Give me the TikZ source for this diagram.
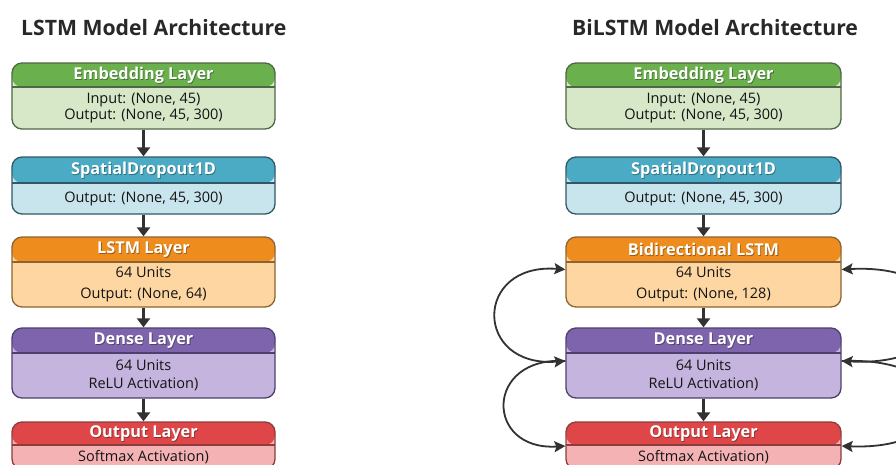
\documentclass[tikz,border=0pt]{standalone}
\usepackage{fontspec}
\setmainfont{Open Sans}
\usetikzlibrary{arrows.meta,calc}
\definecolor{greenhead}{RGB}{106,176,76}
\definecolor{greenbody}{RGB}{214,232,200}
\definecolor{greenline}{RGB}{78,104,70}
\definecolor{bluehead}{RGB}{75,170,196}
\definecolor{bluebody}{RGB}{200,228,236}
\definecolor{blueline}{RGB}{50,88,104}
\definecolor{orangehead}{RGB}{238,140,30}
\definecolor{orangebody}{RGB}{253,214,162}
\definecolor{orangeline}{RGB}{140,100,50}
\definecolor{purplehead}{RGB}{125,100,172}
\definecolor{purplebody}{RGB}{196,180,222}
\definecolor{purpleline}{RGB}{78,64,110}
\definecolor{redhead}{RGB}{222,70,72}
\definecolor{redbody}{RGB}{244,178,180}
\definecolor{redline}{RGB}{140,60,60}
\definecolor{arrowgray}{RGB}{50,50,50}
\definecolor{titlegray}{RGB}{40,40,40}
\tikzset{
  layer/.style={rectangle, rounded corners=10pt, line width=1.3pt, inner sep=0pt},
  headtext/.style={text=white, font=\fontsize{16.3}{18}\selectfont\bfseries, inner sep=0pt},
  headshadow/.style={text=black, opacity=0.35, font=\fontsize{16.3}{18}\selectfont\bfseries, inner sep=0pt},
  bodytext/.style={text=black!92, font=\fontsize{14.5}{17}\selectfont, align=center, inner sep=0pt},
  titletext/.style={text=titlegray, font=\fontsize{21.2}{24}\selectfont\bfseries, inner sep=0pt, anchor=west},
  flow/.style={draw=arrowgray, line width=2.8pt, -{Triangle[length=9pt,width=13pt]}},
  loop/.style={draw=arrowgray, line width=1.8pt, -{Stealth[length=11pt,width=11pt,inset=2pt]}},
  loopboth/.style={draw=arrowgray, line width=1.8pt, {Stealth[length=11pt,width=11pt,inset=2pt]}-{Stealth[length=11pt,width=11pt,inset=2pt]}}
}
% #1 name, #2 cx, #3 top, #4 divider, #5 bottom, #6 width, #7 colour prefix, #8 header, #9 body
\newcommand{\layerbox}[9]{%
  \pgfmathsetmacro{\lbh}{#5-#3}%
  \pgfmathsetmacro{\lbc}{(#3+#5)/2}%
  \pgfmathsetmacro{\lbd}{#4-#3}%
  \pgfmathsetmacro{\lbt}{(#3+#4)/2}%
  \pgfmathsetmacro{\lbb}{(#4+#5)/2}%
  \node[layer, minimum width=#6pt, minimum height=\lbh pt, fill=#7body, draw=#7line,
    path picture={
      \fill[#7head] (path picture bounding box.north west) rectangle ([yshift=-\lbd pt]path picture bounding box.north east);
      \draw[#7line, line width=1.1pt] ([yshift=-\lbd pt]path picture bounding box.north west) -- ([yshift=-\lbd pt]path picture bounding box.north east);
    }] (#1) at (#2,\lbc) {};
  \node[headshadow] at ([xshift=0.8pt,yshift=-0.8pt]#2,\lbt) {#8};
  \node[headtext] (#1h) at (#2,\lbt) {#8};
  \node[bodytext] (#1b) at (#2,\lbb) {#9};
}
\begin{document}
\begin{tikzpicture}[x=1pt,y=-1pt]
\useasboundingbox (0,0) rectangle (896,464);
\clip (0,0) rectangle (896,464);
\fill[white] (0,0) rectangle (896,464);

\node[titletext] (t1) at (21,28) {LSTM Model Architecture};
\node[titletext] (t2) at (572,28) {BiLSTM Model Architecture};

% left column
\layerbox{le}{143.5}{63}{87}{129}{263}{green}{Embedding Layer}{Input: (None, 45)\\[-1pt]Output: (None, 45, 300)}
\layerbox{ls}{143.5}{157}{183}{214}{263}{blue}{SpatialDropout1D}{Output: (None, 45, 300)}
\layerbox{ll}{143.5}{237}{262}{307}{263}{orange}{LSTM Layer}{64 Units\\[4pt]Output: (None, 64)}
\layerbox{ld}{143.5}{328}{353}{398}{263}{purple}{Dense Layer}{64 Units\\[1pt]ReLU Activation)}
\layerbox{lo}{143.5}{422}{445}{469}{263}{red}{Output Layer}{Softmax Activation)}

% right column
\layerbox{re}{703.5}{63}{87}{129}{275}{green}{Embedding Layer}{Input: (None, 45)\\[-1pt]Output: (None, 45, 300)}
\layerbox{rs}{703.5}{157}{183}{214}{275}{blue}{SpatialDropout1D}{Output: (None, 45, 300)}
\layerbox{rl}{703.5}{237}{262}{307}{275}{orange}{Bidirectional LSTM}{64 Units\\[4pt]Output: (None, 128)}
\layerbox{rd}{703.5}{328}{353}{398}{275}{purple}{Dense Layer}{64 Units\\[1pt]ReLU Activation)}
\layerbox{ro}{703.5}{422}{445}{469}{275}{red}{Output Layer}{Softmax Activation)}

% vertical flow arrows
\draw[flow] (le.south) -- (ls.north);
\draw[flow] (ls.south) -- (ll.north);
\draw[flow] (ll.south) -- (ld.north);
\draw[flow] (ld.south) -- (lo.north);
\draw[flow] (re.south) -- (rs.north);
\draw[flow] (rs.south) -- (rl.north);
\draw[flow] (rl.south) -- (rd.north);
\draw[flow] (rd.south) -- (ro.north);

% bidirectional loops, left side
\coordinate (rlw) at ([yshift=2.5pt]rl.west);
\coordinate (rdw) at ([yshift=2pt]rd.west);
\coordinate (row) at ([yshift=-0.5pt]ro.west);
\draw[loopboth] (rlw) .. controls ++(-92,-7) and ++(-92,7) .. (rdw);
\draw[loop] (rdw) .. controls ++(-81,-5) and ++(-81,5) .. (row);
% right side
\coordinate (rle) at ([yshift=2.5pt]rl.east);
\coordinate (rde) at ([yshift=2pt]rd.east);
\coordinate (roe) at ([yshift=-0.5pt]ro.east);
\draw[loopboth] (rle) .. controls ++(130,-7) and ++(130,7) .. (rde);
\draw[loop] (rde) .. controls ++(125,-5) and ++(125,5) .. (roe);
\end{tikzpicture}
\end{document}
